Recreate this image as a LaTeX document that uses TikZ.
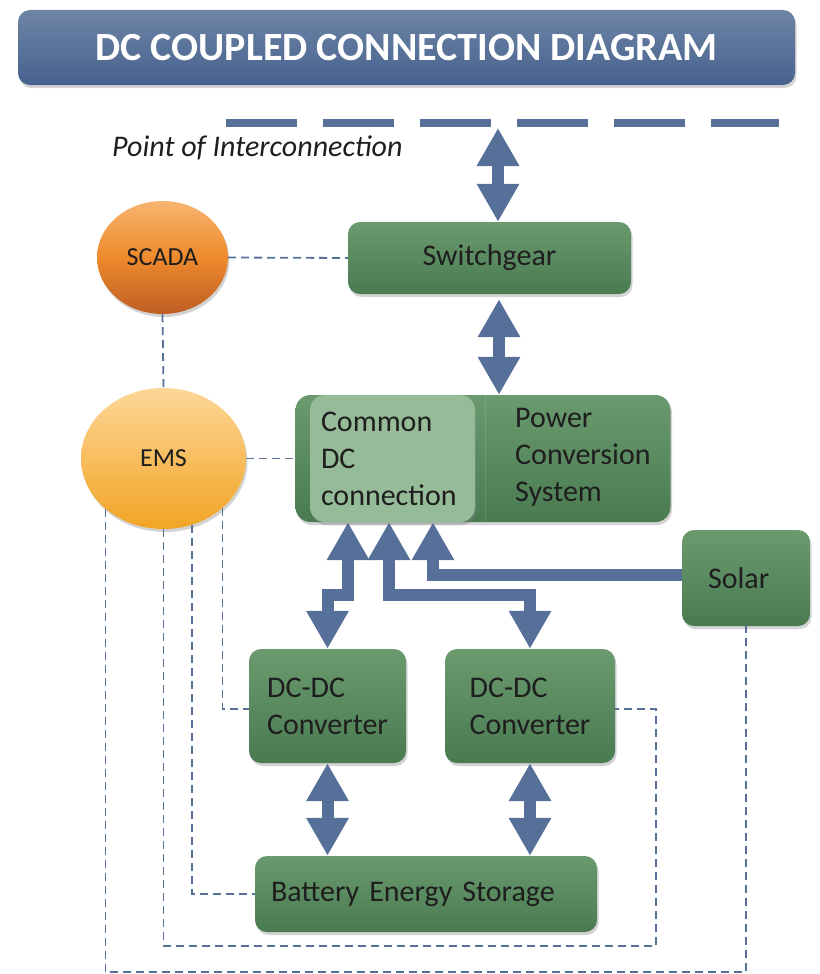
\documentclass[tikz,border=0pt]{standalone}
\usepackage{fontspec}
\setmainfont{Carlito}
\usepackage{xcolor}
\usepackage{tikz}
\usetikzlibrary{arrows.meta,shapes.geometric,shadows}
\definecolor{flow}{HTML}{56709A}
\definecolor{ink}{HTML}{1E1E1E}
\definecolor{titletop}{HTML}{6E84A5}
\definecolor{titlebot}{HTML}{46628E}
\definecolor{boxtop}{HTML}{6A9A6E}
\definecolor{boxbot}{HTML}{4A7A50}
\definecolor{busfill}{HTML}{95BB98}
\definecolor{scadatop}{HTML}{F8B470}
\definecolor{scadamid}{HTML}{EE8A2C}
\definecolor{scadabot}{HTML}{BE5E24}
\definecolor{emstop}{HTML}{FDD798}
\definecolor{emsbot}{HTML}{F2A424}
\tikzset{
    shade/.style = {drop shadow={opacity=0.35, shadow xshift=1.5pt, shadow yshift=-3pt}},
    titlebox/.style = {rectangle, rounded corners=12pt, minimum width=777pt, minimum height=75pt, top color=titletop, bottom color=titlebot, text=white, font=\fontsize{40}{44}\selectfont\bfseries, shade},
    greenbox/.style = {rectangle, rounded corners=12pt, inner sep=0pt, top color=boxtop, bottom color=boxbot, text=ink, font=\fontsize{30}{37}\selectfont, align=left, shade},
    busbox/.style = {rectangle, rounded corners=15pt, fill=busfill, text=ink, font=\fontsize{30}{37}\selectfont, align=left, inner xsep=11pt, text width=143pt, minimum height=127pt, shade},
    ctrl/.style = {ellipse, inner sep=0pt, text=ink, font=\fontsize{26}{30}\selectfont, shade},
    bus/.style = {draw=flow, line width=12pt, line join=miter, {Triangle[width=40pt,length=38pt]}-{Triangle[width=40pt,length=38pt]}},
    feed/.style = {draw=flow, line width=12pt, line join=miter, -{Triangle[width=40pt,length=38pt]}},
    link/.style = {draw=flow, line width=1.8pt, dash pattern=on 8pt off 5pt},
    grid/.style = {draw=flow, line width=8.5pt, dash pattern=on 71pt off 26pt}
}
\begin{document}
\begin{tikzpicture}[x=1pt, y=-1pt]
\useasboundingbox (0,0) rectangle (819,974);

% title
\node (title) [titlebox] at (406.5,47.5) {DC COUPLED CONNECTION DIAGRAM};

% grid connection
\coordinate (poiL) at (226,123);
\coordinate (poiR) at (779,123);
\coordinate (poitap) at (498,128);
\draw [grid] (poiL) -- (poiR);
\node (poi) [anchor=west, inner sep=0pt, text=ink, font=\fontsize{30}{36}\selectfont\itshape] at (112,148) {Point of Interconnection};

% blocks
\node (swg) [greenbox, minimum width=283pt, minimum height=72pt] at (489.5,258) {Switchgear};
\node (pcs) [greenbox, rounded corners=15pt, minimum width=375pt, minimum height=127pt] at (483,458.5) {};
\coordinate (divx) at (485,0);
\draw [white, opacity=0.12, line width=1pt] (pcs.north -| divx) -- (pcs.south -| divx);
\node (dcbus) [busbox] at (392.5,458.5) {Common\\DC\\connection};
\node (pcstext) [anchor=west, inner sep=0pt, text=ink, font=\fontsize{30}{37}\selectfont, align=left] at (515,457.5) {Power\\Conversion\\System};
\node (solar) [greenbox, minimum height=96pt, text width=76pt, inner xsep=26pt] at (746,578) {Solar};
\node (dcdcA) [greenbox, minimum width=157pt, minimum height=114pt] at (327.5,706) {DC-DC\\Converter};
\node (dcdcB) [greenbox, minimum width=170pt, minimum height=114pt] at (530,706) {DC-DC\\Converter};
\node (bes) [greenbox, minimum height=76pt, text width=310pt, inner xsep=16pt] at (426,894) {Battery Energy Storage};

% controllers
\node (scada) [ctrl, minimum width=131pt, minimum height=113pt, top color=scadatop, bottom color=scadabot, middle color=scadamid] at (162.5,257.5) {SCADA};
\node (ems) [ctrl, minimum width=165pt, minimum height=141pt, top color=emstop, bottom color=emsbot] at (163.5,458.5) {EMS};

% power flow
\draw [bus] (poitap) -- ([xshift=8.5pt]swg.north);
\draw [bus] ([xshift=9.5pt,yshift=-5pt]swg.south) -- ([xshift=9.5pt]swg.south |- pcs.north);
\draw [bus] ([xshift=-44.5pt]dcbus.south) -- ++(0,73) -| (dcdcA.north);
\draw [bus] ([xshift=-3.5pt]dcbus.south) -- ++(0,73) -| (dcdcB.north);
\draw [feed] ([yshift=3.5pt]solar.west) -| ([xshift=40.5pt]dcbus.south);
\draw [bus] (dcdcA.south) -- (dcdcA.south |- bes.north);
\draw [bus] (dcdcB.south) -- (dcdcB.south |- bes.north);

% control links
\coordinate (c1) at (656,946);
\coordinate (c2) at (746,972);
\draw [link] (scada.east) -- (swg.west);
\draw [link] (scada.south) -- (ems.north);
\draw [link] (ems.east) -- (pcs.west);
\draw [link] (ems.-40) |- ([yshift=-3pt]dcdcA.west);
\draw [link] (ems.-67) |- (bes.west);
\draw [link] (ems.south) |- (c1) |- ([yshift=-3pt]dcdcB.east);
\draw [link] (ems.-139) |- (c2) -- (solar.south);
\end{tikzpicture}
\end{document}
